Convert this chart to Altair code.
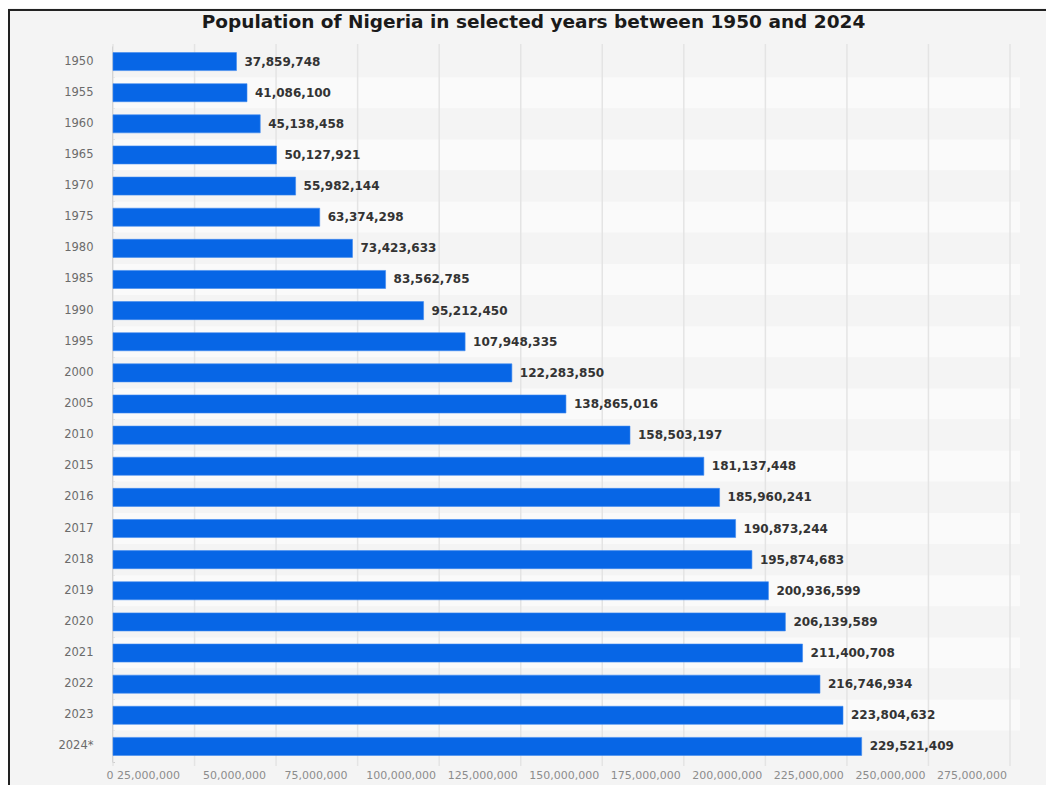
import altair as alt
import pandas as pd

years = ["1950", "1955", "1960", "1965", "1970", "1975", "1980", "1985", "1990", "1995",
         "2000", "2005", "2010", "2015", "2016", "2017", "2018", "2019", "2020", "2021",
         "2022", "2023", "2024*"]
population = [37859748, 41086100, 45138458, 50127921, 55982144, 63374298, 73423633,
              83562785, 95212450, 107948335, 122283850, 138865016, 158503197, 181137448,
              185960241, 190873244, 195874683, 200936599, 206139589, 211400708,
              216746934, 223804632, 229521409]
x_ticks = [0, 25000000, 50000000, 75000000, 100000000, 125000000, 150000000,
           175000000, 200000000, 225000000, 250000000, 275000000]

df = pd.DataFrame({"year": years, "population": population,
                   "stripe": [i % 2 for i in range(len(years))]})
ticks_df = pd.DataFrame({"tick": x_ticks})

W, H = 897, 716
FONT = "DejaVu Sans"

stripes = alt.Chart(df).mark_rect().encode(
    y=alt.Y("year:N", sort=years, axis=None,
            scale=alt.Scale(paddingInner=0, paddingOuter=0)),
    x=alt.value(0), x2=alt.value(W + 10),
    color=alt.Color("stripe:N", legend=None,
                    scale=alt.Scale(domain=[0, 1], range=["#f4f4f4", "#fafafa"])),
)

xscale = alt.Scale(domain=[0, 275000000], nice=False)
xaxis = alt.Axis(values=x_ticks, grid=False, domain=False, ticks=False,
                 labelFont=FONT, labelFontSize=11, labelColor="#8c8c8c",
                 labelPadding=7, labelAlign="left",
                 labelOffset=alt.expr("datum.value == 0 ? -7 : 8"),
                 labelExpr="datum.value == 0 ? '0 25,000,000' : (datum.value >= 275000000 ? '' : format(datum.value + 25000000, ','))")

grid = alt.Chart(ticks_df).mark_rule(color="#e4e4e4", strokeWidth=1.5).encode(
    x=alt.X("tick:Q", scale=xscale, axis=xaxis, title=None),
    y=alt.value(-2), y2=alt.value(H + 4))

yenc = alt.Y("year:N", sort=years, title=None,
             scale=alt.Scale(paddingInner=0.42, paddingOuter=0.21),
             axis=alt.Axis(labelFont=FONT, labelFontSize=11.5, labelColor="#6b6b6b",
                           labelPadding=20, ticks=False, domain=True,
                           domainColor="#555555", domainWidth=2, grid=False))
xenc = alt.X("population:Q", title=None, scale=xscale, axis=xaxis)

bars = alt.Chart(df).mark_bar(color="#0766e6", stroke="#3f8af0", strokeWidth=0.6).encode(
    y=yenc, x=xenc)

labels = alt.Chart(df).mark_text(align="left", baseline="middle", dx=8,
                                 font=FONT, fontSize=12, fontWeight="bold",
                                 color="#333333").encode(
    y=alt.Y("year:N", sort=years), x=alt.X("population:Q"),
    text=alt.Text("population:Q", format=","))

frame = alt.Chart(df).mark_rect(fill=None, stroke="#222222", strokeWidth=2).encode(
    x=alt.value(-104), x2=alt.value(W + 200),
    y=alt.value(-36), y2=alt.value(H + 200))

chart = alt.layer(stripes, grid + bars + labels, frame).resolve_scale(y="independent").properties(
    width=W, height=H,
    background="#f4f4f4",
    padding={"left": 105, "top": 38, "right": 36, "bottom": 23},
    autosize=alt.AutoSizeParams(type="none"),
    title=alt.TitleParams("Population of Nigeria in selected years between 1950 and 2024",
                          font=FONT, fontSize=18.5, fontWeight="bold", color="#1a1a1a",
                          anchor="middle", dx=-28, offset=15, dy=37),
).configure_view(stroke=None)

chart.save("out.html", embed_options={"renderer": "svg", "actions": False})
